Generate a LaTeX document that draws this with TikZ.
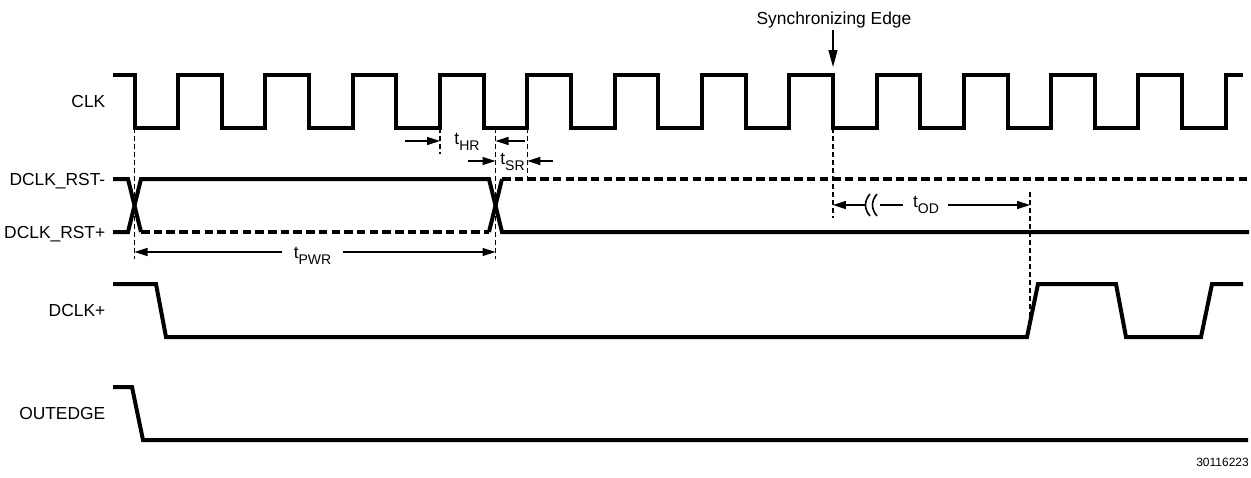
\documentclass[tikz,border=0pt]{standalone}
\usepackage{fontspec}
\setmainfont{Liberation Sans}
\usetikzlibrary{positioning, arrows.meta}

\newcommand{\tlab}[1]{t\raisebox{-0.38em}{\fontsize{14}{14}\selectfont #1}}

\begin{document}
\begin{tikzpicture}[x=1pt, y=-1pt,
  wave/.style={line width=4pt},
  ghost/.style={line width=4pt, dash pattern=on 8.5pt off 4.2pt},
  guide/.style={line width=1.2pt, dash pattern=on 5pt off 3pt},
  dim/.style={line width=1.3pt, -{Triangle[length=13pt,width=8pt]}},
  bigdim/.style={line width=1.3pt, -{Triangle[length=17pt,width=9pt]}},
  lbl/.style={font=\fontsize{17.4}{17.4}\selectfont, inner sep=0pt, text height=12.4pt, text depth=0pt},
  tim/.style={font=\fontsize{17.4}{17.4}\selectfont, inner sep=0pt}]
  \useasboundingbox (0,0) rectangle (1251,477);

  \coordinate (clk0) at (113,101);
  \coordinate (rstn0) at (113,179);
  \coordinate (rstp0) at (113,232);
  \coordinate (dclk0) at (113,310);
  \coordinate (out0) at (113,413);
  \node[lbl, left=7.5pt of clk0] (clkL) {CLK};
  \node[lbl, left=7.5pt of rstn0] (rstnL) {DCLK\_RST-};
  \node[lbl, left=7.5pt of rstp0] (rstpL) {DCLK\_RST+};
  \node[lbl, left=7.5pt of dclk0] (dclkL) {DCLK+};
  \node[lbl, left=7.5pt of out0] (outL) {OUTEDGE};

  \draw[wave] (113,75) foreach \k in {0,...,12} {
    -- ({134.5+87.3*\k},75) -- ++(0,52.5) -- ++(43.65,0) -- ++(0,-52.5) } -- (1243,75);

  \draw[wave] (113,179) -- (128,179) -- (141,232);
  \draw[wave] (113,232) -- (128,232) -- (141,179) -- (489,179) -- (502,232) -- (1249,232);
  \draw[ghost] (141,232) -- (489,232);
  \draw[wave] (489,232) -- (502,179);
  \draw[ghost] (502,179) -- (1249,179);

  \draw[wave] (113,284) -- (156,284) -- (166,337) -- (1027,337) -- (1038,284) -- (1116,284)
    -- (1126,337) -- (1201,337) -- (1212,284) -- (1243,284);
  \draw[wave] (113,387) -- (132,387) -- (143,440) -- (1248,440);

  \coordinate (f0) at (134.5,127.5);
  \coordinate (r3) at (440,127.5);
  \coordinate (x1) at (495.5,127.5);
  \coordinate (r4) at (527.3,127.5);
  \coordinate (f8) at (832.9,127.5);
  \coordinate (od1) at (1030,192);
  \draw[guide] (f0) -- ++(0,131);
  \draw[guide] (r3) -- ++(0,26);
  \draw[guide] (x1) -- ++(0,131);
  \draw[guide] (r4) -- ++(0,51);
  \draw[guide] (f8) -- ++(0,90);
  \draw[guide] (od1) -- ++(0,130);

  \node[lbl] (sync) at (834,18) {Synchronizing Edge};
  \coordinate (syncA) at (833,30);
  \coordinate (syncT) at (833,67);
  \draw[bigdim] (syncA) -- (syncT);

  \node[tim] (thr) at (467,142) {\tlab{HR}};
  \coordinate (hrA) at (405,141);
  \coordinate (hrL) at (440,141);
  \coordinate (hrB) at (525,141);
  \coordinate (hrR) at (495.5,141);
  \draw[dim] (hrA) -- (hrL);
  \draw[dim] (hrB) -- (hrR);

  \node[tim] (tsr) at (512.5,162) {\tlab{SR}};
  \coordinate (srA) at (468,161);
  \coordinate (srL) at (495.5,161);
  \coordinate (srB) at (553,161);
  \coordinate (srR) at (527.3,161);
  \draw[dim] (srA) -- (srL);
  \draw[dim] (srB) -- (srR);

  \node[tim] (tpwr) at (312.5,256) {\tlab{PWR}};
  \coordinate (pwrA) at (282,252);
  \coordinate (pwrL) at (134.5,252);
  \coordinate (pwrB) at (343,252);
  \coordinate (pwrR) at (495.5,252);
  \draw[dim] (pwrA) -- (pwrL);
  \draw[dim] (pwrB) -- (pwrR);

  \node[tim] (tod) at (926,205) {\tlab{OD}};
  \coordinate (odL) at (832.9,205);
  \coordinate (brkA) at (866,205);
  \coordinate (brkB) at (880,205);
  \coordinate (odA) at (903,205);
  \coordinate (odB) at (948,205);
  \coordinate (odR) at (1030,205);
  \draw[dim] (brkA) -- (odL);
  \draw[line width=1.3pt] (brkB) -- (odA);
  \draw[dim] (odB) -- (odR);
  \draw[line width=1.6pt] (870,194) .. controls (864,201) and (864,209) .. (870,216);
  \draw[line width=1.6pt] (877,194) .. controls (871,201) and (871,209) .. (877,216);

  \node[lbl, font=\fontsize{12}{12}\selectfont, text height=8.6pt, anchor=east] (figno) at (1249,462) {30116223};
\end{tikzpicture}
\end{document}
